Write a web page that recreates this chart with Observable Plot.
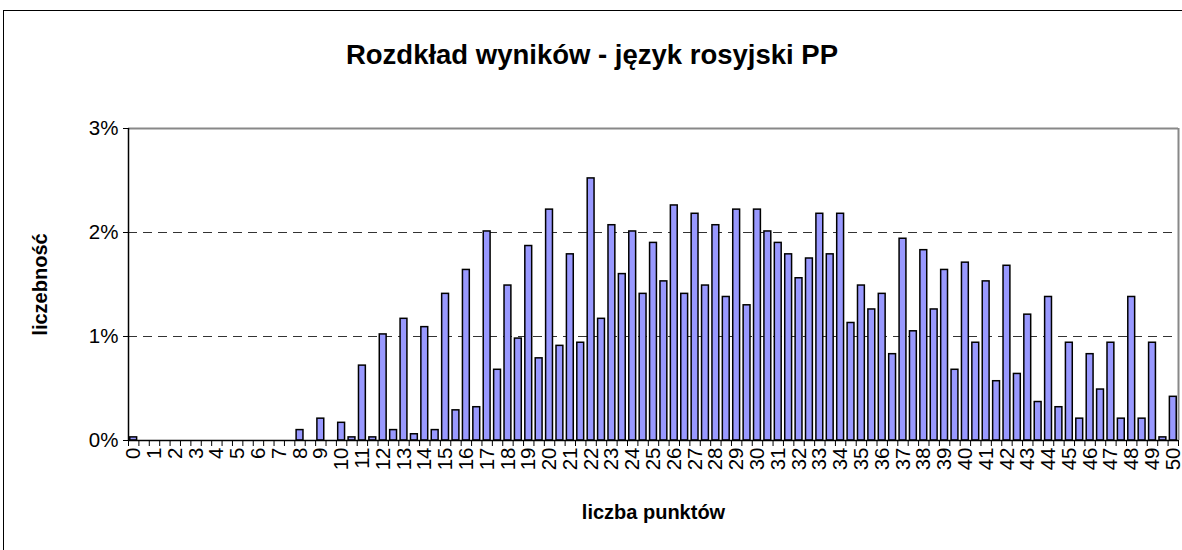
<!DOCTYPE html>
<html><head><meta charset="utf-8">
<script src="https://cdn.jsdelivr.net/npm/d3@7"></script>
<script src="https://cdn.jsdelivr.net/npm/@observablehq/plot@0.6"></script>
<style>
body{margin:0;background:#fff;font-family:"Liberation Sans",Arial,sans-serif;}
#wrap{position:relative;width:1182px;height:550px;overflow:hidden;background:#fff;}
#border{position:absolute;left:3px;top:10px;width:1200px;height:600px;border:1px solid #000;}
#title{position:absolute;left:0;top:40px;width:1184px;text-align:center;font-weight:bold;font-size:27.5px;line-height:30px;color:#000;}
#chart{position:absolute;left:0;top:0;}
</style></head><body>
<div id="wrap"><div id="border"></div><div id="chart"></div><div id="title">Rozdkład wyników - język rosyjski PP</div></div>
<script>
// score categories (half-point steps)
const scores = [0,0.5,1,1.5,2,2.5,3,3.5,4,4.5,5,5.5,6,6.5,7,7.5,8,8.5,9,9.5,10,10.5,11,11.5,12,12.5,13,13.5,14,14.5,15,15.5,16,16.5,17,17.5,18,18.5,19,19.5,20,20.5,21,21.5,22,22.5,23,23.5,24,24.5,25,25.5,26,26.5,27,27.5,28,28.5,29,29.5,30,30.5,31,31.5,32,32.5,33,33.5,34,34.5,35,35.5,36,36.5,37,37.5,38,38.5,39,39.5,40,40.5,41,41.5,42,42.5,43,43.5,44,44.5,45,45.5,46,46.5,47,47.5,48,48.5,49,49.5,50];
// percentage of students (liczebność, %)
const percents = [0.03,0,0,0,0,0,0,0,0,0,0,0,0,0,0,0,0.10,0,0.21,0,0.17,0.03,0.72,0.03,1.02,0.10,1.17,0.06,1.09,0.10,1.41,0.29,1.64,0.32,2.01,0.68,1.49,0.98,1.87,0.79,2.22,0.91,1.79,0.94,2.52,1.17,2.07,1.60,2.01,1.41,1.90,1.53,2.26,1.41,2.18,1.49,2.07,1.38,2.22,1.30,2.22,2.01,1.90,1.79,1.56,1.75,2.18,1.79,2.18,1.13,1.49,1.26,1.41,0.83,1.94,1.05,1.83,1.26,1.64,0.68,1.71,0.94,1.53,0.57,1.68,0.64,1.21,0.37,1.38,0.32,0.94,0.21,0.83,0.49,0.94,0.21,1.38,0.21,0.94,0.03,0.42];
const xLabels = [0,1,2,3,4,5,6,7,8,9,10,11,12,13,14,15,16,17,18,19,20,21,22,23,24,25,26,27,28,29,30,31,32,33,34,35,36,37,38,39,40,41,42,43,44,45,46,47,48,49,50];
const yTicks = [0,1,2,3];
const gridLines = [1,2];

const data = scores.map((s,i)=>({score:s, value:percents[i]})).filter(d=>d.value>0);
const half = 0.25;
const bounds = scores.map(s=>s-half).concat([scores[scores.length-1]+half]);
const xMin = scores[0]-half, xMax = scores[scores.length-1]+half;
const barHalf = 0.165;

const chart = Plot.plot({
  width:1182, height:550,
  marginLeft:128, marginRight:4, marginTop:128, marginBottom:110,
  style:{fontFamily:"'Liberation Sans', Arial, sans-serif", color:"#000", background:"transparent", overflow:"visible"},
  x:{type:"linear", domain:[xMin,xMax]},
  y:{domain:[0,3]},
  marks:[
    Plot.ruleY(gridLines, {stroke:"#000", strokeOpacity:0.8, strokeWidth:1, strokeDasharray:"9,6"}),
    Plot.ruleY([3], {stroke:"#888", strokeWidth:2}),
    Plot.ruleX([xMax], {stroke:"#888", strokeWidth:2}),
    Plot.rectY(data, {x1:d=>d.score-barHalf, x2:d=>d.score+barHalf, y1:0, y2:"value", fill:"#9999FF", stroke:"#000", strokeWidth:1.5}),
    Plot.ruleX([xMin], {stroke:"#000", strokeWidth:1.5}),
    Plot.ruleY([0], {stroke:"#000", strokeWidth:1.5}),
    Plot.axisY({ticks:yTicks, tickFormat:d=>d+"%", tickSize:5, tickPadding:5, fontSize:20.5, label:null}),
    Plot.axisX({ticks:bounds, tickFormat:()=>"", tickSize:6, label:null}),
    Plot.axisX({ticks:xLabels, tickFormat:d=>String(d), tickSize:0, tickPadding:7, tickRotate:-90, fontSize:20.5, label:null}),
    Plot.text(["liczba punktów"], {frameAnchor:"bottom", lineAnchor:"middle", dy:72, fontWeight:"bold", fontSize:20}),
    Plot.text(["liczebność"], {frameAnchor:"left", lineAnchor:"middle", textAnchor:"middle", dx:-88, rotate:-90, fontWeight:"bold", fontSize:20})
  ]
});
document.getElementById("chart").appendChild(chart);
</script>
</body></html>
